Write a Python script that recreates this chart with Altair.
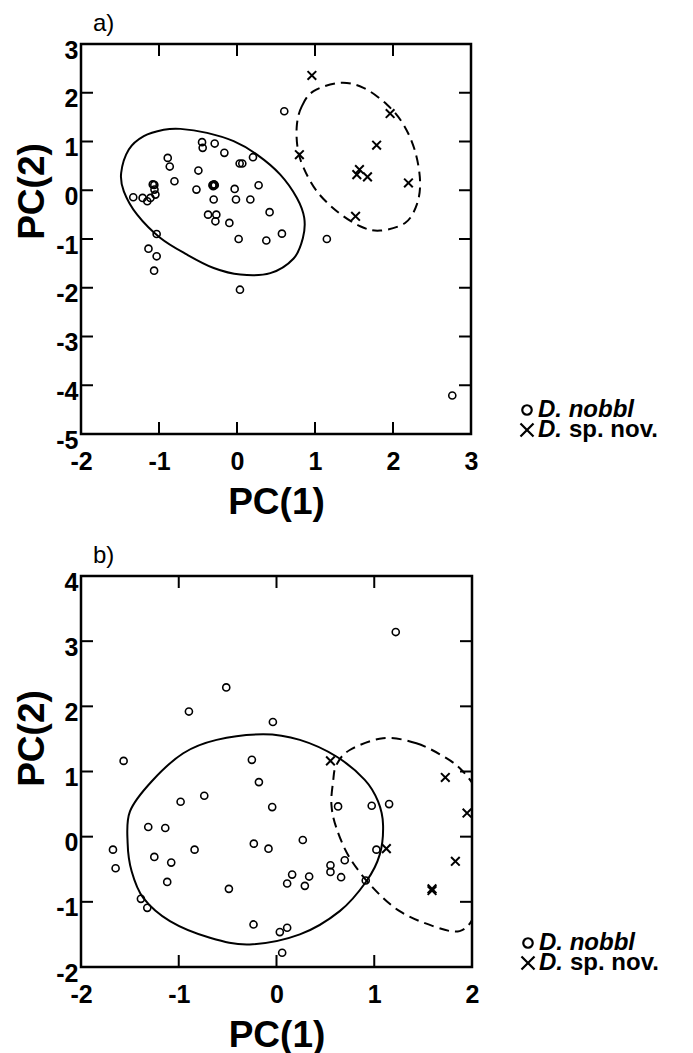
import altair as alt
import pandas as pd

# ---------------- Panel a ----------------
a_nobbi_x = [0.606, -0.448, -0.44, -0.286, -0.162, -0.888, -0.862, 0.034, 0.068, 0.205,
             -0.495, -0.802, -1.08, -1.06, -1.058, -1.046, -1.33, -1.21, -1.15, -1.11,
             -0.315, -0.30, -0.285, -0.305, -0.295, -0.52, -0.03, 0.277, -0.299, -0.013,
             0.171, 0.418, -0.371, -0.265, -0.277, -0.098, 0.576, 0.021, 0.376, 1.152,
             -1.03, -1.135, -1.03, -1.063, 0.038, 2.76]
a_nobbi_y = [1.62, 0.986, 0.87, 0.958, 0.767, 0.664, 0.486, 0.548, 0.548, 0.678,
             0.404, 0.185, 0.12, 0.11, 0.014, -0.089, -0.144, -0.157, -0.226, -0.157,
             0.105, 0.10, 0.105, 0.085, 0.12, 0.014, 0.027, 0.103, -0.19, -0.19,
             -0.19, -0.45, -0.5, -0.5, -0.637, -0.67, -0.89, -1.0, -1.03, -1.0,
             -0.897, -1.198, -1.355, -1.65, -2.04, -4.21]
a_spnov_x = [0.96, 0.80, 1.963, 1.79, 1.57, 1.536, 1.673, 2.198, 1.52]
a_spnov_y = [2.355, 0.73, 1.574, 0.924, 0.424, 0.32, 0.274, 0.15, -0.534]

a_solid_x = [-1.485, -1.387, -1.195, -0.939, -0.726, -0.384, -0.043, 0.256, 0.555, 0.768,
             0.862, 0.845, 0.726, 0.427, 0.043, -0.299, -0.640, -0.982, -1.280, -1.451]
a_solid_y = [0.356, 0.835, 1.109, 1.239, 1.259, 1.177, 1.006, 0.732, 0.322, -0.157,
             -0.568, -0.979, -1.40, -1.70, -1.73, -1.595, -1.321, -0.979, -0.5, -0.021]
a_dash_x = [0.768, 0.832, 0.982, 1.323, 1.622, 1.921, 2.134, 2.283, 2.347, 2.305,
            2.155, 1.835, 1.579, 1.280, 1.024, 0.854, 0.777]
a_dash_y = [1.348, 1.725, 2.033, 2.204, 2.101, 1.759, 1.348, 0.801, 0.185, -0.294,
            -0.671, -0.828, -0.739, -0.431, -0.021, 0.459, 0.869]

a_x_labels = [-2, -1, 0, 1, 2, 3]
a_y_labels = [-5, -4, -3, -2, -1, 0, 1, 2, 3]
a_x_inner = [-1, 0, 1, 2]
a_y_inner = [-4, -3, -2, -1, 0, 1, 2]

# ---------------- Panel b ----------------
b_nobbi_x = [1.22, -0.514, -0.896, -0.037, -1.564, -0.252, -0.18, -0.981, -0.739, -0.044,
             0.630, 0.974, 1.152, -1.312, -1.138, -1.673, -1.646, -1.25, -1.077, -0.838,
             -1.118, -0.232, -0.082, 0.269, 0.160, 0.109, 0.334, 0.290, 0.552, 0.552,
             0.698, 0.661, 1.022, 0.913, -0.487, -1.387, -1.322, -0.235, 0.034, 0.109,
             0.058]
b_nobbi_y = [3.14, 2.29, 1.92, 1.76, 1.163, 1.179, 0.837, 0.536, 0.628, 0.454,
             0.464, 0.474, 0.5, 0.148, 0.133, -0.199, -0.485, -0.311, -0.398, -0.199,
             -0.694, -0.107, -0.184, -0.051, -0.582, -0.719, -0.612, -0.755, -0.439, -0.541,
             -0.362, -0.622, -0.199, -0.673, -0.801, -0.954, -1.092, -1.347, -1.464, -1.398,
             -1.781]
b_spnov_x = [0.552, 1.727, 1.949, 1.124, 1.830, 1.591, 1.591]
b_spnov_y = [1.163, 0.908, 0.362, -0.184, -0.378, -0.801, -0.827]

b_solid_x = [-1.523, -1.499, -1.278, -0.954, -0.613, -0.136, 0.239, 0.613, 0.903, 1.039,
             1.090, 1.056, 0.920, 0.647, 0.239, -0.273, -0.681, -1.090, -1.363, -1.482]
b_solid_y = [-0.097, 0.388, 0.847, 1.28, 1.485, 1.571, 1.485, 1.23, 0.872, 0.541,
             0.184, -0.276, -0.684, -1.143, -1.5, -1.653, -1.551, -1.296, -0.939, -0.531]
b_dash_x = [1.09, 1.431, 1.738, 1.908, 2.05, 2.15, 2.17, 2.12, 2.03, 1.874,
            1.601, 1.26, 0.988, 0.75, 0.613, 0.562, 0.579, 0.613, 0.75]
b_dash_y = [1.51, 1.434, 1.204, 1.0, 0.7, 0.25, -0.2, -0.7, -1.2, -1.449,
            -1.372, -1.143, -0.786, -0.327, 0.133, 0.49, 0.847, 1.1, 1.33]

b_x_labels = [-2, -1, 0, 1, 2]
b_y_labels = [-2, -1, 0, 1, 2, 3, 4]
b_x_inner = [-1, 0, 1]
b_y_inner = [-1, 0, 1, 2, 3]

legend_names = ["D. nobbl", "D.", "sp. nov."]

FONT = "Liberation Sans"
LABEL_EXPR = "datum.value < 0 ? '-' + toString(-datum.value) : toString(datum.value)"
TICK = 12
LEG_FS = 24


def panel(tag, nx, ny, sx, sy, solx, soly, dax, day, xdom, ydom, xl, yl, xin, yin,
          w, h, title_y):
    xs = alt.Scale(domain=xdom, nice=False, zero=False)
    ys = alt.Scale(domain=ydom, nice=False, zero=False)

    xaxis = alt.Axis(values=xl, title="PC(1)", labelExpr=LABEL_EXPR,
                     labelPadding=15, titlePadding=10, labelFlush=False,
                     labelFontWeight="bold", titleFontWeight="bold")
    yaxis = alt.Axis(values=yl, title="PC(2)", labelExpr=LABEL_EXPR, labelPadding=3,
                     labelOffset=6, titlePadding=4, titleY=title_y,
                     labelFontWeight="bold", titleFontWeight="bold")
    X = alt.X("x:Q", scale=xs, axis=xaxis)
    Y = alt.Y("y:Q", scale=ys, axis=yaxis)

    solid = pd.DataFrame({"x": solx, "y": soly, "o": list(range(len(solx)))})
    dash = pd.DataFrame({"x": dax, "y": day, "o": list(range(len(dax)))})
    nob = pd.DataFrame({"x": nx, "y": ny})
    spn = pd.DataFrame({"x": sx, "y": sy})

    base_solid = alt.Chart(solid).mark_line(
        interpolate="cardinal-closed", color="black", strokeWidth=2, clip=True
    ).encode(x=X, y=Y, order="o:Q")
    dashed = alt.Chart(dash).mark_line(
        interpolate="cardinal-closed", color="black", strokeWidth=2,
        strokeDash=[10, 6], clip=True
    ).encode(x=X, y=Y, order="o:Q")
    circ = alt.Chart(nob).mark_point(
        shape="circle", filled=False, color="black", size=50, strokeWidth=1.6, opacity=1
    ).encode(x=X, y=Y)
    cross = alt.Chart(spn).mark_point(
        shape="M-1,-1L1,1M-1,1L1,-1", filled=False, color="black", size=75,
        strokeWidth=2, opacity=1
    ).encode(x=X, y=Y)

    xt = pd.DataFrame({"x": xin})
    yt = pd.DataFrame({"y": yin})
    tb = alt.Chart(xt).mark_rule(color="black", strokeWidth=2).encode(
        x=X, y=alt.value(h), y2=alt.value(h - TICK))
    tt = alt.Chart(xt).mark_rule(color="black", strokeWidth=2).encode(
        x=X, y=alt.value(0), y2=alt.value(TICK))
    tl = alt.Chart(yt).mark_rule(color="black", strokeWidth=2).encode(
        y=Y, x=alt.value(0), x2=alt.value(TICK))
    tr = alt.Chart(yt).mark_rule(color="black", strokeWidth=2).encode(
        y=Y, x=alt.value(w), x2=alt.value(w - TICK))

    # legend
    lx, ltx, ly1, ly2 = w + 56, w + 67, h - 24, h - 4
    one = pd.DataFrame({"t": [legend_names[0]]})
    two = pd.DataFrame({"t": [legend_names[1]]})
    three = pd.DataFrame({"t": [legend_names[2]]})
    leg_c = alt.Chart(one).mark_point(
        shape="circle", filled=False, color="black", size=90, strokeWidth=2.2, opacity=1
    ).encode(x=alt.value(lx), y=alt.value(ly1))
    leg_x = alt.Chart(one).mark_point(
        shape="M-1,-1L1,1M-1,1L1,-1", filled=False, color="black", size=170,
        strokeWidth=2.2, opacity=1
    ).encode(x=alt.value(lx), y=alt.value(ly2))
    txt1 = alt.Chart(one).mark_text(
        align="left", baseline="middle", font=FONT, fontSize=LEG_FS, fontWeight="bold",
        fontStyle="italic", color="black"
    ).encode(x=alt.value(ltx), y=alt.value(ly1), text="t:N")
    txt2 = alt.Chart(two).mark_text(
        align="left", baseline="middle", font=FONT, fontSize=LEG_FS, fontWeight="bold",
        fontStyle="italic", color="black"
    ).encode(x=alt.value(ltx), y=alt.value(ly2), text="t:N")
    txt3 = alt.Chart(three).mark_text(
        align="left", baseline="middle", font=FONT, fontSize=LEG_FS, fontWeight="bold",
        color="black"
    ).encode(x=alt.value(ltx + 31), y=alt.value(ly2), text="t:N")

    return alt.layer(
        base_solid, dashed, circ, cross, tb, tt, tl, tr,
        leg_c, leg_x, txt1, txt2, txt3
    ).properties(
        width=w, height=h,
        title=alt.TitleParams(text=tag, anchor="start", frame="group", font=FONT,
                              fontSize=24, fontWeight="normal", color="black",
                              offset=2, dx=12),
    )


pa = panel("a)", a_nobbi_x, a_nobbi_y, a_spnov_x, a_spnov_y, a_solid_x, a_solid_y,
           a_dash_x, a_dash_y, [-2, 3], [-5, 3], a_x_labels, a_y_labels,
           a_x_inner, a_y_inner, 390, 390, 147)
pb = panel("b)", b_nobbi_x, b_nobbi_y, b_spnov_x, b_spnov_y, b_solid_x, b_solid_y,
           b_dash_x, b_dash_y, [-2, 2], [-2, 4], b_x_labels, b_y_labels,
           b_x_inner, b_y_inner, 391, 391, 162)

chart = alt.vconcat(pa, pb, spacing=20).properties(
    padding={"top": 2, "left": 4, "right": 2, "bottom": 2},
    background="white",
).configure_view(
    stroke="black", strokeWidth=2.5
).configure_axis(
    labelFont=FONT, labelFontWeight="bold", labelFontSize=25, labelColor="black",
    titleFont=FONT, titleFontWeight="bold", titleFontSize=37, titleColor="black",
    domain=False, ticks=False, grid=False
)

chart.save("out.html", embed_options={"renderer": "svg", "actions": False})
